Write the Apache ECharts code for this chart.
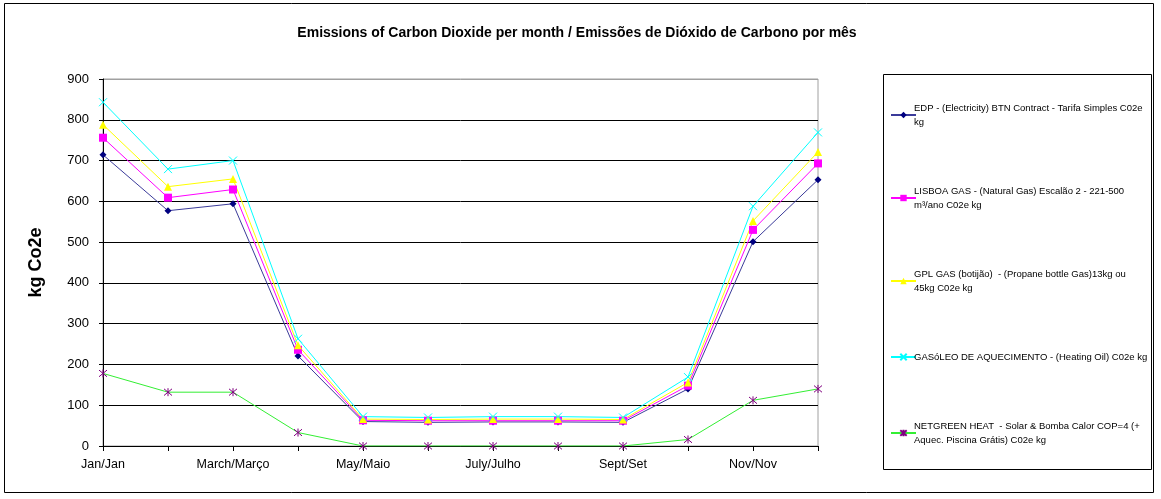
<!DOCTYPE html>
<html>
<head>
<meta charset="utf-8">
<script src="https://cdn.jsdelivr.net/npm/echarts@6/dist/echarts.min.js"></script>
<style>
  html, body { margin: 0; padding: 0; background: #fff; }
  #main { width: 1161px; height: 499px; }
</style>
</head>
<body>
<div id="main"></div>
<script>
// meses
var months = ["Jan/Jan", "Feb/Fev", "March/Março", "April/Abril", "May/Maio", "June/Junho",
  "July/Julho", "Aug/Ago", "Sept/Set", "Oct/Out", "Nov/Nov", "Dec/Dez"];
var yTicks = [0, 100, 200, 300, 400, 500, 600, 700, 800, 900];

var edp = [714, 577, 594, 221, 60, 58, 59, 59, 58, 140, 501, 653];
var lisboaGas = [756, 609, 629, 236, 63, 62, 62, 62, 62, 148, 530, 693];
var gplGas = [788, 636, 655, 247, 66, 65, 66, 66, 65, 156, 552, 721];
var gasoleo = [843, 679, 700, 263, 72, 70, 72, 72, 70, 169, 588, 769];
var netgreen = [178, 132, 132, 33, 0, 0, 0, 0, 0, 16, 112, 140];

var names = [
  "EDP - (Electricity) BTN Contract - Tarifa Simples C02e kg",
  "LISBOA GAS - (Natural Gas) Escalão 2 - 221-500 m³/ano C02e kg",
  "GPL GAS (botijão)  - (Propane bottle Gas)13kg ou 45kg C02e kg",
  "GASóLEO DE AQUECIMENTO - (Heating Oil) C02e kg",
  "NETGREEN HEAT  - Solar & Bomba Calor COP=4 (+ Aquec. Piscina Grátis) C02e kg"
];
// quebras de linha da legenda
var legendText = {};
legendText[names[0]] = "EDP - (Electricity) BTN Contract - Tarifa Simples C02e\nkg";
legendText[names[1]] = "LISBOA GAS - (Natural Gas) Escalão 2 - 221-500\nm³/ano C02e kg";
legendText[names[2]] = "GPL GAS (botijão)  - (Propane bottle Gas)13kg ou\n45kg C02e kg";
legendText[names[3]] = "GASóLEO DE AQUECIMENTO - (Heating Oil) C02e kg";
legendText[names[4]] = "NETGREEN HEAT  - Solar & Bomba Calor COP=4 (+\nAquec. Piscina Grátis) C02e kg";

var font = "Liberation Sans";
var xPath = "path://M0,0 L10,10 M10,0 L0,10";
var starPath = "path://M0,0 L10,10 M10,0 L0,10 M5,-1 L5,11";

function mkSeries(name, data, lineColor, symbol, size, symColor, stroke) {
  return {
    name: name,
    type: "line",
    data: data,
    symbol: symbol,
    symbolSize: size,
    showAllSymbol: true,
    animation: false,
    lineStyle: { color: lineColor, width: 1 },
    itemStyle: stroke
      ? { color: "rgba(0,0,0,0)", borderColor: symColor, borderWidth: 1 }
      : { color: symColor, borderWidth: 0 }
  };
}

var myChart = echarts.init(document.getElementById("main"));
var option = {
  backgroundColor: "#fff",
  textStyle: { fontFamily: font },
  title: {
    text: "Emissions of Carbon Dioxide per month / Emissões de Dióxido de Carbono por mês",
    left: 572,
    textAlign: "center",
    top: 21,
    textStyle: { fontFamily: font, fontSize: 14, fontWeight: "bold", color: "#000" }
  },
  graphic: [
    { type: "rect", shape: { x: 4.5, y: 3.5, width: 1149, height: 489 },
      style: { fill: "none", stroke: "#000", lineWidth: 1 } },
    { type: "rect", shape: { x: 883.5, y: 74.5, width: 268, height: 395 },
      style: { fill: "none", stroke: "#000", lineWidth: 1 } }
  ],
  legend: {
    orient: "vertical",
    left: 885,
    top: 96,
    itemWidth: 25,
    itemHeight: 8,
    itemGap: 55,
    data: names,
    formatter: function (n) { return legendText[n]; },
    textStyle: { fontFamily: font, fontSize: 9.5, color: "#000", lineHeight: 14, padding: [0, 0, 0, -7] }
  },
  grid: {
    left: 103, right: 343, top: 79, bottom: 53,
    show: true, borderColor: "#a0a0a0", borderWidth: 1
  },
  xAxis: {
    type: "category",
    data: months,
    boundaryGap: false,
    axisLine: { lineStyle: { color: "#000", width: 1 } },
    axisTick: { show: true, interval: 0, length: 5, lineStyle: { color: "#000" } },
    axisLabel: { interval: 1, color: "#000", fontSize: 12.5, margin: 12, fontFamily: font },
    splitLine: { show: false }
  },
  yAxis: {
    type: "value",
    min: yTicks[0],
    max: yTicks[yTicks.length - 1],
    interval: 100,
    name: "kg Co2e",
    nameLocation: "middle",
    nameGap: 58,
    nameTextStyle: { fontFamily: font, fontSize: 18, fontWeight: "bold", color: "#000" },
    axisLine: { show: true, lineStyle: { color: "#000", width: 1 } },
    axisTick: { show: true, length: 4, lineStyle: { color: "#000" } },
    axisLabel: { color: "#000", fontSize: 13, margin: 14, fontFamily: font },
    splitLine: {
      show: true,
      lineStyle: { color: ["#000", "#000", "#000", "#000", "#000", "#000", "#000", "#000", "#000", "#a0a0a0"], width: 1 }
    }
  },
  series: [
    mkSeries(names[0], edp, "#3b3b9a", "diamond", 7, "#000080", false),
    mkSeries(names[1], lisboaGas, "#ff00ff", "rect", 8, "#ff00ff", false),
    mkSeries(names[2], gplGas, "#ffff00", "triangle", 8, "#ffff00", false),
    mkSeries(names[3], gasoleo, "#00ffff", xPath, 8, "#00ffff", true),
    mkSeries(names[4], netgreen, "#33ee33", starPath, 8, "#800080", true)
  ]
};
myChart.setOption(option);
</script>
</body>
</html>
